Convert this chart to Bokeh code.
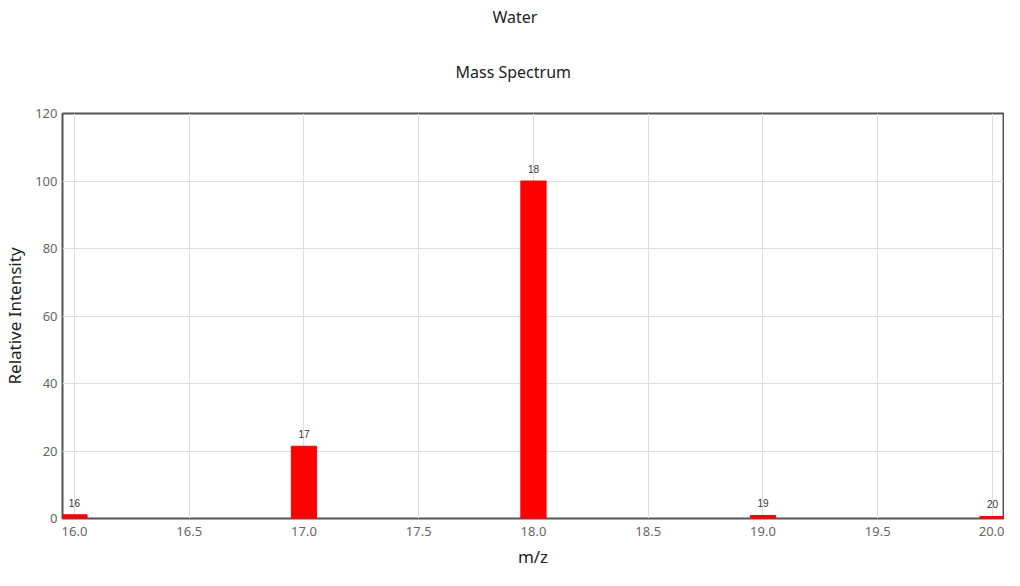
from bokeh.plotting import figure
from bokeh.models import Title, ColumnDataSource, Range1d, NumeralTickFormatter, FixedTicker
from bokeh.core.properties import value
from bokeh.embed import file_html
from bokeh.resources import INLINE

mz = [16, 17, 18, 19, 20]
intensity = [1.1, 21.4, 100.0, 0.9, 0.6]
peak_labels = ["16", "17", "18", "19", "20"]
x_ticks = [16.0, 16.5, 17.0, 17.5, 18.0, 18.5, 19.0, 19.5, 20.0]
y_ticks = [0, 20, 40, 60, 80, 100, 120]

FONT = "Noto Sans"

src = ColumnDataSource(dict(x=mz, top=intensity, lab=peak_labels))

p = figure(width=1004, height=570, output_backend="svg", toolbar_location=None,
           x_range=Range1d(15.948, 20.048), y_range=Range1d(0, 120),
           min_border_left=61, min_border_right=1, min_border_top=113, min_border_bottom=0)

p.vbar(x="x", top="top", width=0.11, bottom=0, source=src, fill_color="#ff0000", line_color="#ff0000")
p.text(x="x", y="top", text="lab", source=src, text_align="center", text_baseline="bottom",
       y_offset=-8, text_font_size="10px", text_color="#333333", text_font=value("Liberation Sans"))

p.xaxis.ticker = FixedTicker(ticks=x_ticks)
p.yaxis.ticker = FixedTicker(ticks=y_ticks)
p.xaxis.formatter = NumeralTickFormatter(format="0.0")

for ax in (p.xaxis[0], p.yaxis[0]):
    ax.axis_line_color = None
    ax.major_tick_line_color = None
    ax.minor_tick_line_color = None
    ax.major_tick_in = 0
    ax.major_tick_out = 0
    ax.minor_tick_in = 0
    ax.minor_tick_out = 0
    ax.major_label_text_font = FONT
    ax.major_label_text_font_size = "13px"
    ax.major_label_text_color = "#666666"
    ax.axis_label_text_font = FONT
    ax.axis_label_text_font_size = "17px"
    ax.axis_label_text_font_style = "normal"
    ax.axis_label_text_color = "#222222"

p.xaxis.axis_label = "m/z"
p.yaxis.axis_label = "Relative Intensity"
p.xaxis.major_label_standoff = 8
p.yaxis.major_label_standoff = 5
p.xaxis.axis_label_standoff = 6
p.yaxis.axis_label_standoff = 6

p.xgrid.grid_line_color = "#dddddd"
p.ygrid.grid_line_color = "#dddddd"
p.outline_line_color = "#555555"
p.outline_line_width = 2

t2 = Title(text="Mass Spectrum", align="left", offset=393, text_font=FONT, text_font_size="16px",
           text_font_style="normal", text_color="#222222", standoff=62)
t1 = Title(text="Water", align="left", offset=430, text_font=FONT, text_font_size="16px",
           text_font_style="normal", text_color="#222222", standoff=0)
p.add_layout(t2, "above")
p.add_layout(t1, "above")

open("out.html", "w").write(file_html(p, INLINE))
